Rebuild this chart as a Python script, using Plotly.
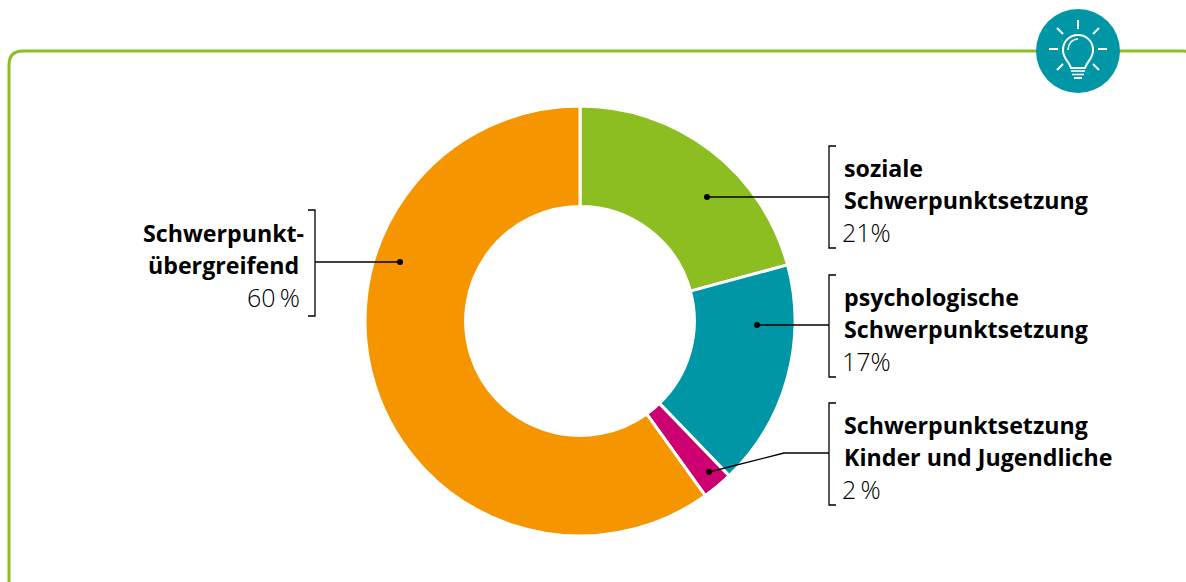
import plotly.graph_objects as go

W, H = 1186, 582
categories = ["soziale Schwerpunktsetzung", "psychologische Schwerpunktsetzung",
              "Schwerpunktsetzung Kinder und Jugendliche", "Schwerpunktübergreifend"]
values = [20.8, 17.0, 2.3, 59.9]
colors = ["#8cbe22", "#0096a5", "#cc0070", "#f59500"]
bold_lines = [["soziale", "Schwerpunktsetzung"], ["psychologische", "Schwerpunktsetzung"],
              ["Schwerpunktsetzung", "Kinder und Jugendliche"], ["Schwerpunkt-", "übergreifend"]]
percent_labels = ["21%", "17%", "2\u2009%", "60\u2009%"]

FONT = "Open Sans"
BOLD = 23.2
LIGHT = 25
INK = "#000000"

def X(p): return p / W
def Y(p): return 1 - p / H

fig = go.Figure(go.Pie(
    labels=categories, values=values, sort=False, direction="clockwise", rotation=0,
    hole=0.532, marker=dict(colors=colors, line=dict(color="white", width=3)),
    textinfo="none", hoverinfo="label+percent", showlegend=False,
    domain=dict(x=[X(365), X(795)], y=[Y(536), Y(106)]),
))

shapes, ann = [], []

def path(d, color="black", width=1.3, fill=None):
    s = dict(type="path", xref="paper", yref="paper", path=d, line=dict(color=color, width=width), layer="above")
    if fill:
        s["fillcolor"] = fill
    shapes.append(s)

def pts(seq):
    return "M" + " L".join(f"{X(x):.5f},{Y(y):.5f}" for x, y in seq)

def curve(cmds):
    out = []
    for c in cmds:
        out.append(c[0] + " ".join(f"{X(c[i]):.5f},{Y(c[i+1]):.5f}" for i in range(1, len(c), 2)))
    return " ".join(out)

def circle(cx, cy, r, fill, width=0, color=None):
    shapes.append(dict(type="circle", xref="paper", yref="paper", x0=X(cx - r), x1=X(cx + r),
                       y0=Y(cy + r), y1=Y(cy - r), fillcolor=fill,
                       line=dict(width=width, color=color or fill), layer="above"))

def text(x, y, s, anchor, weight):
    ann.append(dict(xref="paper", yref="paper", x=X(x), y=Y(y), text=s, showarrow=False,
                    xanchor=anchor, yanchor="middle", xshift=0, borderpad=0,
                    font=dict(family=FONT, size=BOLD if weight > 400 else LIGHT, color=INK, weight=weight)))

# Panel border
GREEN = "#8cbe22"
path(curve([("M", 9, 590), ("L", 9, 65), ("Q", 9, 51, 23, 51), ("L", 1183, 51), ("Q", 1197, 51, 1197, 65)]),
     color=GREEN, width=3)

# Right-hand label groups
rows = [(168, 0), (297, 1), (425, 2)]
for y0, i in rows:
    text(843, y0, bold_lines[i][0], "left", 700)
    text(843, y0 + 32, bold_lines[i][1], "left", 700)
    text(841, y0 + 64, percent_labels[i], "left", 300)
    path(pts([(836, y0 - 22), (829, y0 - 22), (829, y0 + 80), (836, y0 + 80)]))

# Left-hand label group
text(305, 233, bold_lines[3][0], "right", 700)
text(300, 265, bold_lines[3][1], "right", 700)
text(301, 297, percent_labels[3], "right", 300)
path(pts([(308, 210), (315, 210), (315, 316), (308, 316)]))

# Leader lines and dots
leaders = [[(707, 197), (829, 197)], [(757, 325), (829, 325)],
           [(709, 472), (784, 453), (829, 453)], [(400, 262), (315, 262)]]
for seg in leaders:
    path(pts(seg))
    circle(seg[0][0], seg[0][1], 3, "black")

# Light-bulb icon
TEAL = "#0096a5"
cx, cy = 1078, 51
circle(cx, cy, 42, TEAL)
for a, b in [((1078, 20), (1078, 29)), ((1049, 49), (1058, 49)), ((1098, 49), (1107, 49)),
             ((1057, 28), (1063, 34)), ((1099, 28), (1093, 34)),
             ((1057, 70), (1063, 64)), ((1099, 70), (1093, 64))]:
    path(pts([a, b]), color="white", width=2)
path(curve([("M", 1071, 68), ("C", 1069, 61, 1063, 59, 1063, 50), ("C", 1063, 41, 1070, 35, 1078, 35),
            ("C", 1086, 35, 1093, 41, 1093, 50), ("C", 1093, 59, 1087, 61, 1085, 68), ("Z",)]),
     color="white", width=2)
path(curve([("M", 1068, 50), ("C", 1068, 44, 1072, 39, 1078, 39)]), color="white", width=1.5)
path(pts([(1071, 71), (1085, 71)]), color="white", width=1.6)
path(pts([(1072, 74.5), (1084, 74.5)]), color="white", width=1.6)
path(pts([(1074, 78), (1082, 78)]), color="white", width=2)

fig.update_layout(width=W, height=H, autosize=False, margin=dict(l=0, r=0, t=0, b=0),
                  paper_bgcolor="white", shapes=shapes, annotations=ann)
fig.write_html("out.html", post_script="document.body.style.margin='0';", config=dict(displayModeBar=False))
